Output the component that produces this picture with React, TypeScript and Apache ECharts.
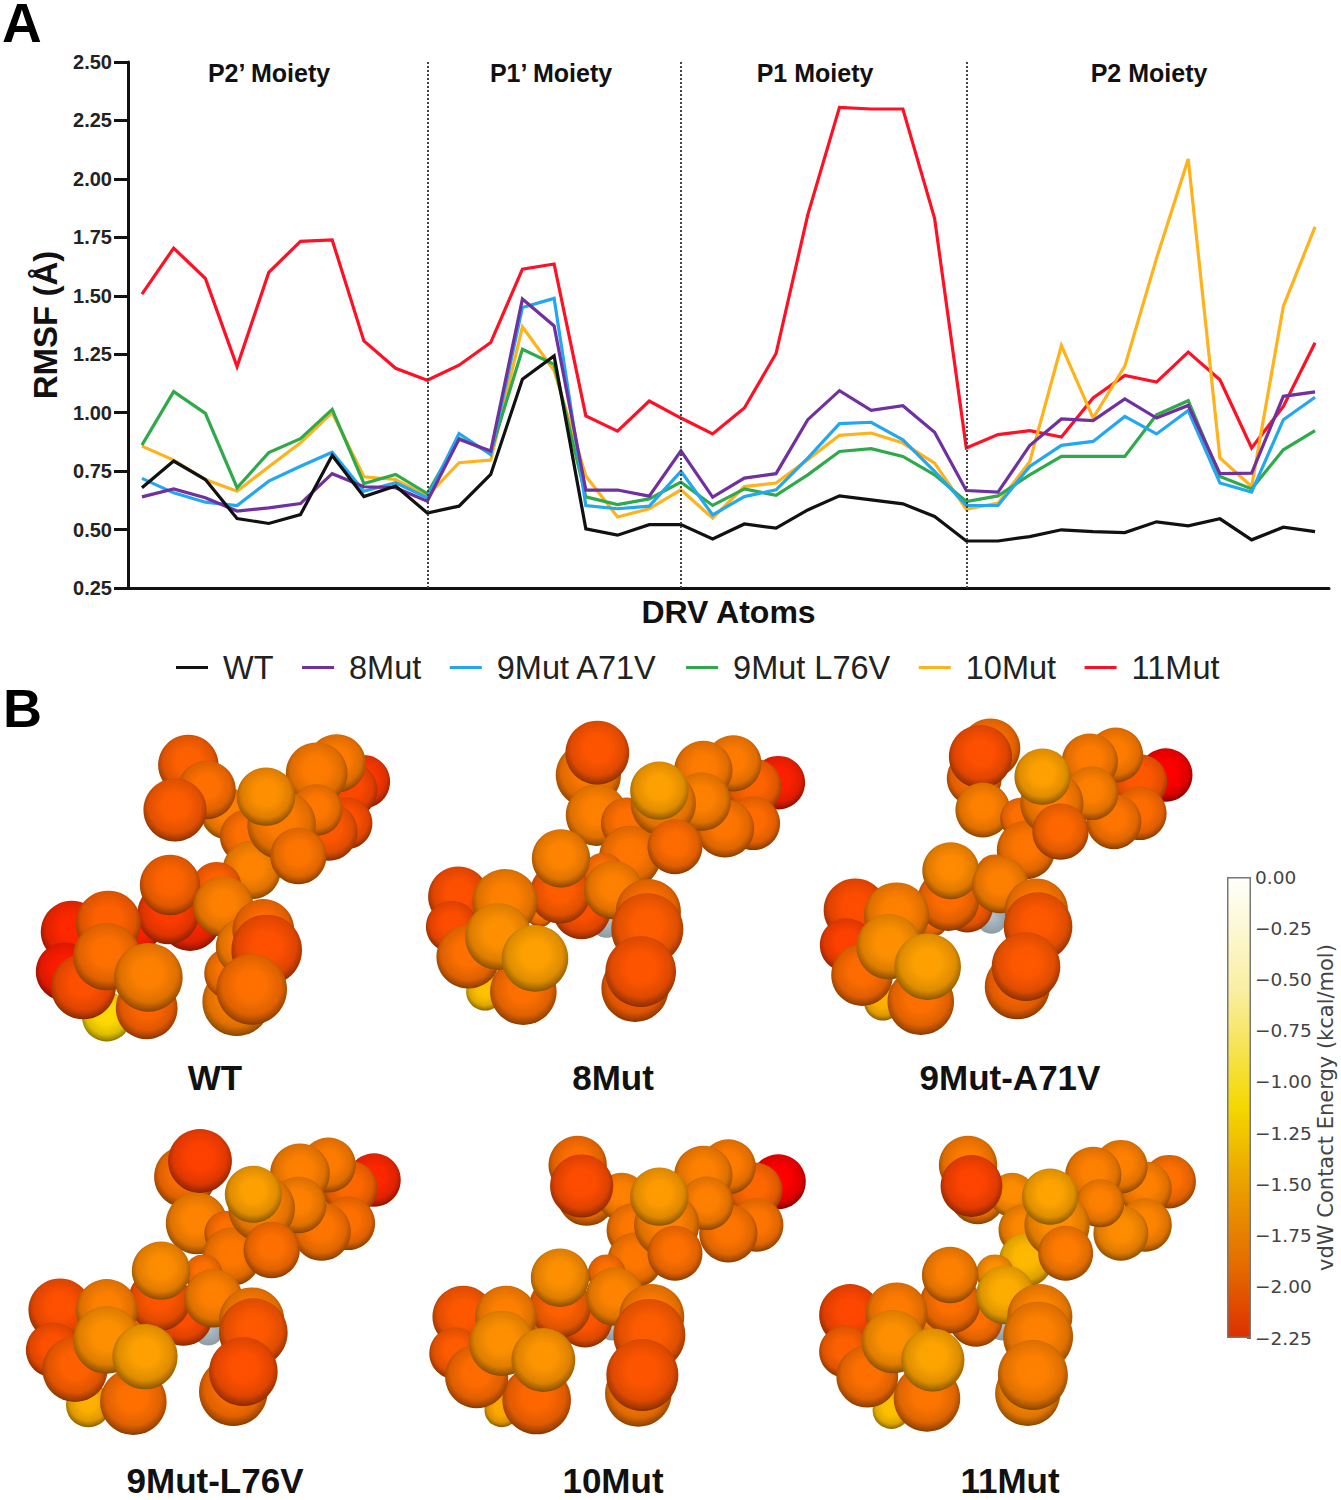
import React, { useEffect, useRef } from "react";
import * as echarts from "echarts";

// ---------- Panel A data ----------
const seriesNames = ["WT", "8Mut", "9Mut A71V", "9Mut L76V", "10Mut", "11Mut"];
const seriesColors = ["#111111", "#7030A0", "#22A7F0", "#2EAA4A", "#FFB21A", "#FF1024"];
const wt = [0.679, 0.793, 0.714, 0.547, 0.526, 0.564, 0.817, 0.641, 0.686, 0.571, 0.6, 0.736, 1.143, 1.243, 0.503, 0.476, 0.521, 0.521, 0.46, 0.524, 0.506, 0.584, 0.644, 0.627, 0.61, 0.556, 0.451, 0.451, 0.47, 0.499, 0.491, 0.487, 0.533, 0.516, 0.546, 0.456, 0.51, 0.491];
const mut8 = [0.64, 0.674, 0.636, 0.579, 0.593, 0.611, 0.739, 0.683, 0.679, 0.621, 0.886, 0.836, 1.486, 1.371, 0.669, 0.669, 0.643, 0.837, 0.639, 0.72, 0.739, 0.97, 1.094, 1.01, 1.03, 0.916, 0.667, 0.66, 0.859, 0.973, 0.966, 1.059, 0.977, 1.031, 0.739, 0.741, 1.07, 1.089];
const mut9a = [0.719, 0.657, 0.617, 0.603, 0.707, 0.771, 0.831, 0.664, 0.7, 0.636, 0.911, 0.821, 1.45, 1.489, 0.603, 0.589, 0.6, 0.749, 0.563, 0.641, 0.67, 0.806, 0.953, 0.959, 0.884, 0.749, 0.603, 0.603, 0.77, 0.86, 0.877, 0.984, 0.909, 1.009, 0.699, 0.66, 0.97, 1.066];
const mut9l = [0.861, 1.09, 0.997, 0.679, 0.829, 0.889, 1.014, 0.697, 0.736, 0.654, 0.89, 0.83, 1.271, 1.207, 0.64, 0.607, 0.631, 0.703, 0.603, 0.674, 0.646, 0.734, 0.834, 0.846, 0.813, 0.734, 0.62, 0.644, 0.734, 0.813, 0.813, 0.813, 0.991, 1.051, 0.727, 0.674, 0.841, 0.923];
const mut10 = [0.857, 0.797, 0.714, 0.664, 0.769, 0.871, 1.0, 0.726, 0.714, 0.643, 0.786, 0.797, 1.367, 1.18, 0.729, 0.554, 0.589, 0.67, 0.549, 0.684, 0.699, 0.799, 0.903, 0.913, 0.87, 0.784, 0.587, 0.613, 0.79, 1.287, 0.977, 1.199, 1.66, 2.085, 0.806, 0.684, 1.455, 1.795];
const mut11 = [1.507, 1.704, 1.574, 1.197, 1.6, 1.733, 1.739, 1.307, 1.19, 1.139, 1.203, 1.3, 1.614, 1.636, 0.986, 0.921, 1.05, 0.977, 0.909, 1.02, 1.253, 1.846, 2.306, 2.299, 2.299, 1.831, 0.849, 0.906, 0.923, 0.896, 1.063, 1.159, 1.131, 1.259, 1.141, 0.849, 1.027, 1.299];
const seriesValues = [wt, mut8, mut9a, mut9l, mut10, mut11];
const moietyDividers = [9, 17, 26];
const moietyLabels = ["P2’ Moiety", "P1’ Moiety", "P1 Moiety", "P2 Moiety"];
const rmsfTicks = { min: 0.25, max: 2.5, step: 0.25 };

// ---------- Panel B data: each atom is [x, y, radius, vdW energy], back to front, in molecule-crop units ----------
type Atom = [number, number, number, number];
const moleculeNames = ["WT", "8Mut", "9Mut-A71V", "9Mut-L76V", "10Mut", "11Mut"];
const atomsWT: Atom[] = [
  [565, 195, 88, -1.83], [1090, 245, 78, -2.07], [1050, 270, 80, -1.98], [1040, 370, 75, -1.93], [1010, 190, 85, -1.67], [985, 395, 85, -1.88],
  [680, 340, 75, -1.64], [740, 410, 78, -1.74], [755, 510, 85, -1.62], [950, 220, 90, -1.67], [950, 330, 75, -1.69], [620, 270, 85, -1.74],
  [525, 330, 92, -1.86], [845, 375, 100, -1.67], [895, 468, 82, -1.71], [798, 290, 85, -1.55],
  [650, 560, 72, -1.83], [570, 660, 90, -2.17], [420, 690, 60, -2.21], [505, 640, 90, -2.05], [510, 555, 88, -1.81], [670, 620, 88, -1.64],
  [215, 695, 90, -2.17], [195, 815, 85, -2.24], [325, 670, 95, -1.83], [320, 950, 72, -1.11], [440, 925, 90, -1.81], [250, 860, 95, -1.93], [320, 770, 98, -1.74], [445, 832, 100, -1.64],
  [710, 905, 100, -1.64], [690, 820, 75, -1.71], [735, 740, 85, -1.64], [790, 690, 90, -1.76], [800, 750, 103, -1.93], [755, 868, 103, -1.74],
];
const atoms8Mut: Atom[] = [
  [565, 225, 95, -1.69], [590, 345, 90, -1.64], [592, 158, 93, -1.9],
  [1135, 248, 78, -2.21], [1060, 260, 82, -1.81], [1060, 370, 78, -1.76], [1000, 190, 82, -1.67], [910, 210, 85, -1.67], [975, 385, 85, -1.71], [905, 305, 85, -1.64],
  [680, 370, 75, -1.74], [690, 470, 90, -1.7], [790, 310, 95, -1.64], [825, 440, 80, -1.76], [778, 272, 85, -1.45],
  [610, 520, 60, -1.74], [620, 665, 47, 0], [420, 640, 40, -1.74], [545, 630, 85, -1.93], [480, 580, 88, -1.86], [483, 475, 85, -1.62], [640, 570, 85, -1.64],
  [175, 590, 88, -1.93], [155, 680, 75, -1.95], [315, 605, 95, -1.64], [255, 875, 55, -1.26], [370, 875, 97, -1.74], [205, 770, 93, -1.74], [295, 710, 97, -1.55], [405, 775, 97, -1.45],
  [705, 865, 98, -1.83], [745, 635, 95, -1.74], [742, 688, 105, -1.86], [722, 815, 103, -1.9],
];
const atoms9A: Atom[] = [
  [552, 145, 87, -1.74], [505, 235, 80, -1.76], [523, 170, 92, -1.93], [530, 330, 80, -1.64],
  [1060, 225, 78, -2.4], [985, 245, 80, -1.88], [985, 340, 78, -1.76], [915, 165, 80, -1.67], [840, 185, 82, -1.67], [910, 365, 80, -1.71], [845, 280, 78, -1.64],
  [640, 355, 60, -1.74], [655, 450, 85, -1.71], [730, 310, 92, -1.67], [755, 395, 82, -1.79], [703, 230, 82, -1.45],
  [565, 520, 55, -1.74], [555, 655, 45, 0], [380, 660, 50, -1.74], [485, 620, 75, -1.86], [430, 600, 90, -1.76], [437, 512, 83, -1.58], [580, 555, 82, -1.64],
  [160, 630, 92, -1.95], [135, 735, 78, -2.02], [280, 645, 95, -1.64], [240, 905, 55, -1.36], [350, 905, 97, -1.74], [180, 825, 90, -1.76], [258, 740, 95, -1.55], [370, 800, 97, -1.45],
  [630, 860, 95, -1.79], [685, 630, 92, -1.69], [690, 680, 100, -1.88], [655, 800, 100, -1.88],
];
const atoms9L: Atom[] = [
  [555, 230, 90, -1.74], [590, 370, 90, -1.62], [600, 183, 93, -2.02],
  [1122, 240, 78, -2.17], [1050, 265, 80, -1.79], [1045, 370, 78, -1.74], [985, 195, 80, -1.67], [900, 220, 87, -1.64], [965, 395, 85, -1.71], [895, 315, 82, -1.64],
  [680, 400, 65, -1.74], [695, 470, 85, -1.69], [785, 325, 97, -1.64], [815, 450, 82, -1.74], [760, 283, 83, -1.45],
  [610, 520, 55, -1.74], [625, 690, 45, 0], [420, 650, 40, -1.76], [550, 650, 85, -1.95], [478, 600, 90, -1.9], [483, 512, 85, -1.57], [640, 595, 85, -1.64],
  [180, 630, 92, -1.93], [160, 750, 80, -1.93], [320, 630, 90, -1.64], [265, 915, 65, -1.36], [400, 905, 97, -1.74], [225, 808, 95, -1.83], [320, 720, 98, -1.55], [435, 770, 95, -1.45],
  [700, 875, 100, -1.74], [755, 660, 95, -1.67], [760, 698, 100, -1.88], [730, 815, 100, -1.93],
];
const atoms10: Atom[] = [
  [533, 195, 85, -1.74], [560, 290, 85, -1.71], [665, 290, 70, -1.64], [545, 258, 92, -1.95], [700, 390, 78, -1.69],
  [1135, 245, 80, -2.4], [1065, 270, 80, -1.79], [1070, 375, 78, -1.71], [985, 200, 80, -1.67], [910, 225, 85, -1.64], [985, 400, 85, -1.71], [920, 310, 78, -1.64],
  [705, 480, 80, -1.69], [800, 375, 95, -1.64], [825, 460, 80, -1.74], [778, 290, 85, -1.48],
  [620, 520, 55, -1.74], [635, 680, 40, 0], [425, 660, 40, -1.74], [555, 660, 80, -1.9], [480, 620, 90, -1.83], [480, 533, 85, -1.55], [645, 590, 85, -1.62],
  [190, 650, 90, -1.88], [165, 760, 75, -1.86], [318, 650, 90, -1.64], [305, 930, 50, -1.41], [410, 900, 100, -1.79], [230, 830, 92, -1.76], [305, 730, 95, -1.55], [430, 780, 93, -1.52],
  [715, 880, 97, -1.69], [755, 650, 95, -1.67], [748, 705, 105, -1.86], [727, 825, 105, -1.9],
];
const atoms11: Atom[] = [
  [487, 195, 85, -1.67], [515, 290, 80, -1.67], [615, 285, 65, -1.57], [497, 258, 90, -2.0], [650, 390, 75, -1.6],
  [1070, 245, 78, -1.74], [1000, 265, 78, -1.64], [1000, 375, 78, -1.62], [930, 200, 78, -1.64], [850, 225, 82, -1.64], [930, 400, 80, -1.57], [870, 310, 70, -1.64],
  [655, 480, 78, -1.31], [745, 375, 95, -1.57], [770, 460, 80, -1.67], [725, 290, 82, -1.43],
  [565, 520, 55, -1.55], [585, 680, 40, 0], [385, 670, 40, -1.64], [510, 660, 78, -1.74], [435, 610, 88, -1.74], [435, 525, 82, -1.64], [595, 585, 85, -1.38],
  [145, 645, 90, -1.98], [130, 755, 75, -1.83], [280, 640, 90, -1.67], [265, 930, 55, -1.26], [368, 895, 97, -1.71], [195, 830, 90, -1.74], [270, 725, 92, -1.55], [385, 780, 92, -1.43],
  [660, 880, 95, -1.6], [695, 650, 95, -1.62], [690, 710, 102, -1.64], [675, 825, 102, -1.64],
];
const moleculeAtoms = [atomsWT, atoms8Mut, atoms9A, atoms9L, atoms10, atoms11];

// ---------- Layout ----------
const FONT = '"Liberation Sans", Arial, sans-serif';
const MPL = '"DejaVu Sans", sans-serif';
// left, top, width, height of the crop box, crop units wide, crop units tall
const moleculeBoxes = [
  [0, 700, 420, 400, 1260, 1200],
  [400, 700, 420, 400, 1260, 1200],
  [800, 700, 541, 400, 1568, 1200],
  [0, 1100, 420, 400, 1260, 1200],
  [400, 1100, 420, 400, 1260, 1200],
  [800, 1100, 541, 400, 1568, 1200],
];
const moleculeLabelPos = [[215, 1077], [613, 1077], [1010, 1077], [215, 1480], [613, 1480], [1010, 1480]];
const moietyLabelPos = [[269, 73], [551, 73], [815, 73], [1149, 73]];

function shade(g: number, k: number) {
  return `rgb(${Math.round(255 * k)},${Math.round(g * k)},0)`;
}
function sphereFill(e: number) {
  if (e === 0) {
    return {
      type: "radial", x: 0.5, y: 0.45, r: 0.6,
      colorStops: [{ offset: 0, color: "#b4c2cc" }, { offset: 1, color: "#8a98a2" }],
    };
  }
  const g = Math.max(0, Math.min(255, 220 - 169 * (-1.1 - e)));
  return {
    type: "radial", x: 0.5, y: 0.44, r: 0.6,
    colorStops: [
      { offset: 0, color: shade(g, 1) },
      { offset: 0.35, color: shade(g, 0.99) },
      { offset: 0.7, color: shade(g, 0.87) },
      { offset: 0.88, color: shade(g, 0.62) },
      { offset: 1, color: shade(g, 0.38) },
    ],
  };
}

function buildOption() {
  const grids: any[] = [{ left: 128, top: 62, width: 1201, height: 526 }];
  const xAxes: any[] = [{
    type: "value", gridIndex: 0, min: -0.44, max: 37.44, splitLine: { show: false },
    axisLine: { show: true, onZero: false, lineStyle: { color: "#111", width: 3 } },
    axisTick: { show: false }, axisLabel: { show: false },
    name: "DRV Atoms", nameLocation: "middle", nameGap: 8,
    nameTextStyle: { fontFamily: FONT, fontWeight: "bold", fontSize: 32, color: "#111" },
  }];
  const yAxes: any[] = [{
    type: "value", gridIndex: 0, min: rmsfTicks.min, max: rmsfTicks.max, interval: rmsfTicks.step, splitLine: { show: false },
    axisLine: { show: true, onZero: false, lineStyle: { color: "#111", width: 3 } },
    axisTick: { show: true, length: 14, lineStyle: { color: "#111", width: 3 } },
    axisLabel: { fontFamily: FONT, fontWeight: "bold", fontSize: 20, color: "#222", margin: 16, formatter: (v: number) => v.toFixed(2) },
    name: "RMSF (Å)", nameLocation: "middle", nameGap: 50, nameRotate: 90,
    nameTextStyle: { fontFamily: FONT, fontWeight: "bold", fontSize: 33, color: "#111" },
  }];

  // line series: bottom to top is 11Mut ... WT
  const series: any[] = [];
  for (let i = seriesNames.length - 1; i >= 0; i--) {
    series.push({
      type: "line", name: seriesNames[i], xAxisIndex: 0, yAxisIndex: 0,
      data: seriesValues[i].map((v, k) => [k, v]),
      showSymbol: false, symbol: "none", smooth: false,
      lineStyle: { color: seriesColors[i], width: 3.2, join: "miter" },
      itemStyle: { color: seriesColors[i] },
      z: 3,
      markLine: i === seriesNames.length - 1 ? {
        silent: true, symbol: "none", label: { show: false },
        lineStyle: { color: "#444", width: 2, type: [2, 2] },
        data: moietyDividers.map((d) => ({ xAxis: d })),
      } : undefined,
    });
  }

  // colour bar
  grids.push({ left: 1227, top: 877, width: 24, height: 461 });
  xAxes.push({ type: "category", gridIndex: 1, data: ["vdW"], axisLine: { show: false }, axisTick: { show: false }, axisLabel: { show: false } });
  yAxes.push({
    type: "value", gridIndex: 1, position: "right", min: -2.25, max: 0, interval: 0.25, splitLine: { show: false },
    axisLine: { show: false },
    axisTick: { show: true, inside: true, length: 4, lineStyle: { color: "#666", width: 1 } },
    axisLabel: { fontFamily: MPL, fontSize: 18.5, color: "#444", margin: 4, formatter: (v: number) => v.toFixed(2).replace("-", "−") },
    name: "vdW Contact Energy (kcal/mol)", nameLocation: "middle", nameGap: 13, nameRotate: 90,
    nameTextStyle: { fontFamily: MPL, fontSize: 21, color: "#444" },
  });
  series.push({
    type: "bar", xAxisIndex: 1, yAxisIndex: 1, data: [-2.25], barWidth: "100%", silent: true,
    itemStyle: {
      borderColor: "#777", borderWidth: 1.5,
      color: {
        type: "linear", x: 0, y: 0, x2: 0, y2: 1,
        colorStops: [
          { offset: 0, color: "#fffffb" }, { offset: 0.25, color: "#f9eea0" }, { offset: 0.5, color: "#f4d800" },
          { offset: 0.68, color: "#ea9c00" }, { offset: 0.85, color: "#e46a00" }, { offset: 1, color: "#dd3000" },
        ],
      },
    },
  });

  // molecules
  moleculeAtoms.forEach((atoms, m) => {
    const [l, t, w, h, ux, uy] = moleculeBoxes[m];
    const gi = grids.length;
    grids.push({ left: l, top: t, width: w, height: h });
    xAxes.push({ type: "value", gridIndex: gi, min: 0, max: ux, show: false, splitLine: { show: false } });
    yAxes.push({ type: "value", gridIndex: gi, min: 0, max: uy, inverse: true, show: false, splitLine: { show: false } });
    series.push({
      type: "scatter", name: moleculeNames[m], xAxisIndex: gi, yAxisIndex: gi, clip: false, silent: true,
      data: atoms.map((a) => ({
        value: [a[0], a[1]],
        symbolSize: ((a[2] * 2) / (uy / h)) * 1.03,
        itemStyle: { color: sphereFill(a[3]) as any, opacity: 1 },
      })),
    });
  });

  const texts: any[] = [
    { type: "text", x: 2, y: 23, style: { text: "A", font: `bold 55px ${FONT}`, lineHeight: 40, fill: "#000", align: "left", verticalAlign: "middle" } },
    { type: "text", x: 3, y: 708, style: { text: "B", font: `bold 54px ${FONT}`, fill: "#000", align: "left", verticalAlign: "middle" } },
    ...moietyLabels.map((s, i) => ({
      type: "text", x: moietyLabelPos[i][0], y: moietyLabelPos[i][1],
      style: { text: s, font: `bold 25px ${FONT}`, fill: "#111", align: "center", verticalAlign: "middle" },
    })),
    ...moleculeNames.map((s, i) => ({
      type: "text", x: moleculeLabelPos[i][0], y: moleculeLabelPos[i][1],
      style: { text: s, font: `bold 35px ${FONT}`, lineHeight: 30, fill: "#111", align: "center", verticalAlign: "middle" },
    })),
  ];

  return {
    animation: false,
    backgroundColor: "#ffffff",
    grid: grids,
    xAxis: xAxes,
    yAxis: yAxes,
    series,
    legend: {
      data: seriesNames, left: 171, top: 646, icon: "rect", itemWidth: 32, itemHeight: 3, itemGap: 28.5,
      selectedMode: false,
      textStyle: { fontFamily: FONT, fontSize: 32.5, color: "#222", padding: [0, 0, 0, 10] },
    },
    graphic: { elements: texts },
  };
}

export default function App() {
  const ref = useRef<HTMLDivElement>(null);
  useEffect(() => {
    const chart = echarts.init(ref.current!, undefined, { renderer: "svg" });
    chart.setOption(buildOption() as any);
    return () => chart.dispose();
  }, []);
  return <div ref={ref} style={{ position: "absolute", left: 0, top: 0, width: 1341, height: 1500 }} />;
}
